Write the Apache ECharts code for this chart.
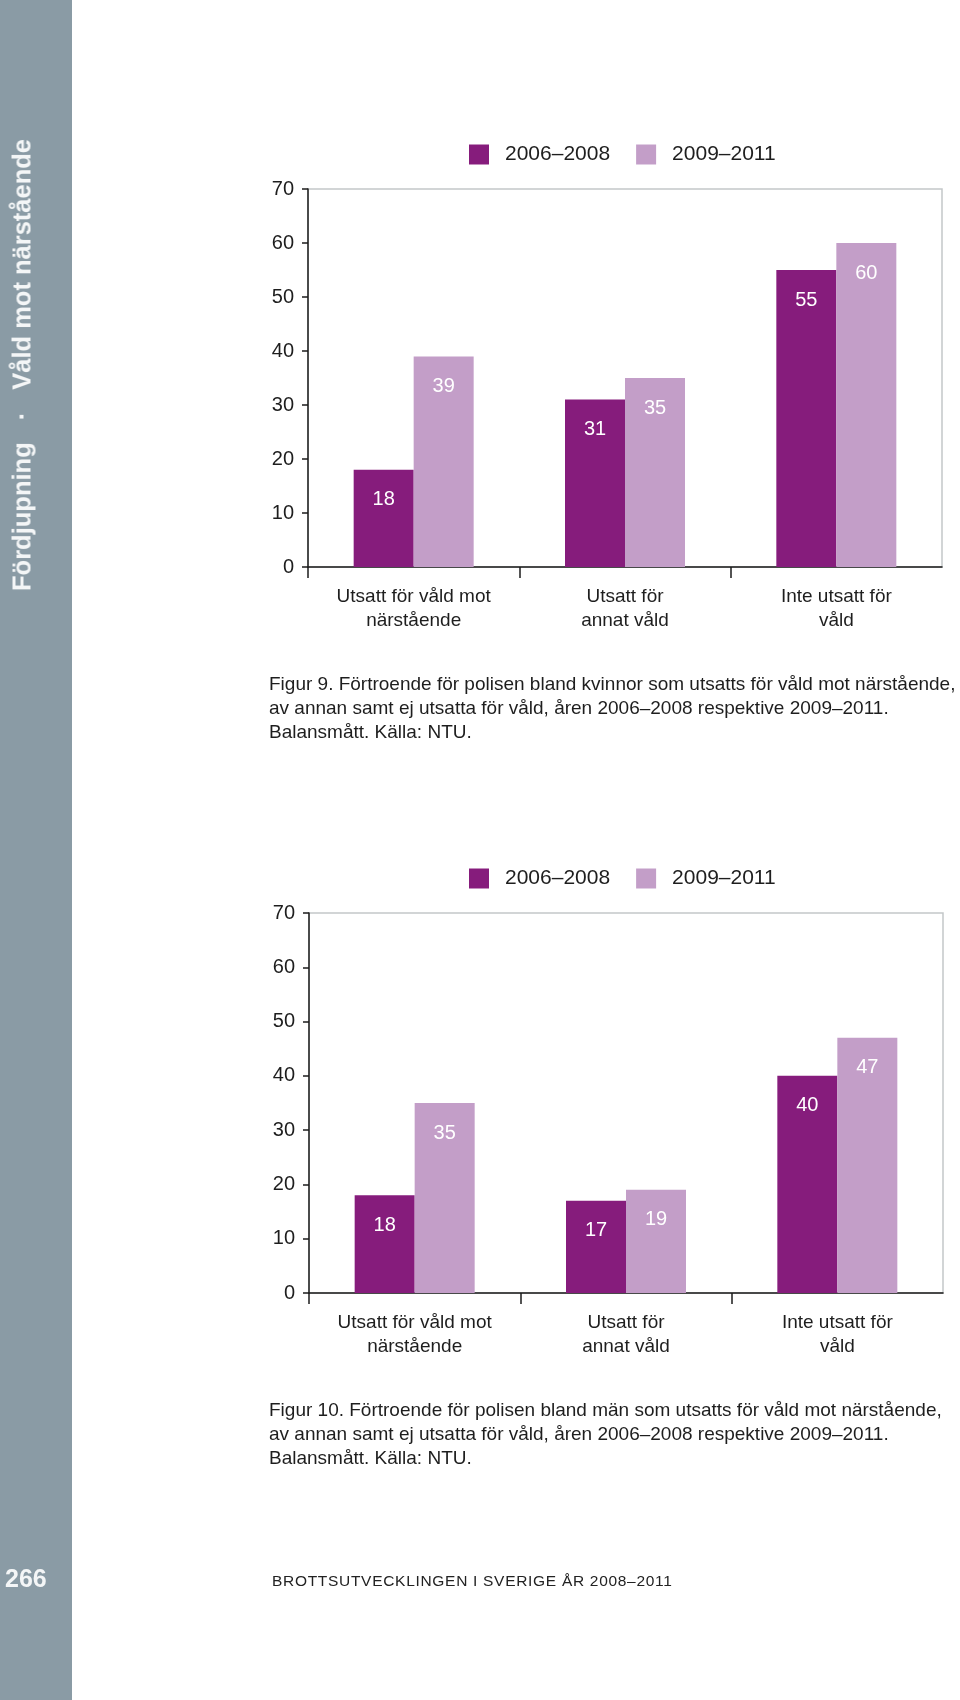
<!DOCTYPE html>
<html>
<head>
<meta charset="utf-8">
<script src="https://cdn.jsdelivr.net/npm/echarts@6/dist/echarts.min.js"></script>
<style>
  html, body { margin: 0; padding: 0; background: #ffffff; }
  body { width: 960px; height: 1700px; position: relative; overflow: hidden; font-family: "Liberation Sans", Arial, sans-serif; }
  #sidebar { position: absolute; left: 0; top: 0; width: 72px; height: 1700px; background: #8a9ba5; }
  #sidetext { position: absolute; left: 22px; top: 365px; transform: translate(-50%, -50%) rotate(-90deg);
    white-space: nowrap; color: #f4f6f7; font-weight: bold; font-size: 25.5px; }
  #sidetext .dot { display: inline-block; margin: 0 22px; }
  #pagenum { position: absolute; left: 5px; top: 1563px; color: #f4f6f7; font-weight: bold; font-size: 25px; line-height: 30px; }
  #footer { position: absolute; left: 272px; top: 1571px; color: #222; font-size: 15.5px; line-height: 20px; letter-spacing: 0.7px; white-space: nowrap; }
  .caption { position: absolute; left: 269px; color: #1e1e1e; font-size: 19px; line-height: 24px; white-space: nowrap; }
  #chart { position: absolute; left: 0; top: 0; width: 960px; height: 1700px; }
</style>
</head>
<body>
<div id="sidebar"></div>
<div id="chart"></div>
<div id="sidetext">Fördjupning<span class="dot">·</span>Våld mot närstående</div>
<div id="pagenum">266</div>
<div class="caption" id="cap1"></div>
<div class="caption" id="cap2"></div>
<div id="footer">BROTTSUTVECKLINGEN I SVERIGE ÅR 2008–2011</div>
<script>
// ---- Data ----
const categories = ['Utsatt för våld mot\nnärstående', 'Utsatt för\nannat våld', 'Inte utsatt för\nvåld'];
const seriesNames = ['2006–2008', '2009–2011'];
const womenA = [18, 31, 55];   // Figur 9, 2006–2008
const womenB = [39, 35, 60];   // Figur 9, 2009–2011
const menA = [18, 17, 40];     // Figur 10, 2006–2008
const menB = [35, 19, 47];     // Figur 10, 2009–2011
const yMin = 0, yMax = 70, yStep = 10;
const categoryBoundaryTicks = [0, 1, 2];   // tick marks between categories (none at the right end)
const caption1 = [
  'Figur 9. Förtroende för polisen bland kvinnor som utsatts för våld mot närstående,',
  'av annan samt ej utsatta för våld, åren 2006–2008 respektive 2009–2011.',
  'Balansmått. Källa: NTU.'
];
const caption2 = [
  'Figur 10. Förtroende för polisen bland män som utsatts för våld mot närstående,',
  'av annan samt ej utsatta för våld, åren 2006–2008 respektive 2009–2011.',
  'Balansmått. Källa: NTU.'
];

// ---- Captions ----
const c1 = document.getElementById('cap1');
c1.style.top = '672px';
c1.innerHTML = caption1.join('<br>');
const c2 = document.getElementById('cap2');
c2.style.top = '1398px';
c2.innerHTML = caption2.join('<br>');

// ---- Chart ----
const DARK = '#861c7c';
const LIGHT = '#c39ec8';
const AXIS = '#1c1c1c';
const FRAME = '#c3c7c9';
const FONT = '"Liberation Sans", Arial, sans-serif';

const grids = [
  { left: 308, top: 189, width: 634, height: 378 },
  { left: 309, top: 913, width: 634, height: 380 }
];

const chart = echarts.init(document.getElementById('chart'), null, { width: 960, height: 1700 });

function xAxisCfg(gridIndex) {
  return {
    type: 'category', gridIndex: gridIndex, data: categories, position: 'bottom',
    axisLine: { lineStyle: { color: AXIS, width: 1.5 } },
    axisTick: { show: false },
    axisLabel: { interval: 0, color: '#1e1e1e', fontSize: 19, lineHeight: 24, fontFamily: FONT, margin: 18 },
    splitLine: { show: false }
  };
}
// helper axis that only draws the boundary tick marks below the category axis
function tickAxisCfg(gridIndex) {
  return {
    type: 'value', gridIndex: gridIndex, min: 0, max: categories.length, interval: 1,
    position: 'top', offset: -grids[gridIndex].height,
    axisLine: { show: false },
    axisLabel: { show: false },
    splitLine: { show: false },
    axisTick: { show: true, inside: true, length: 11, customValues: categoryBoundaryTicks,
      lineStyle: { color: AXIS, width: 1.5 } },
    silent: true
  };
}
function yAxisCfg(gridIndex) {
  return {
    type: 'value', gridIndex: gridIndex, min: yMin, max: yMax, interval: yStep,
    axisLine: { show: true, lineStyle: { color: AXIS, width: 1.5 } },
    axisTick: { show: true, length: 6, lineStyle: { color: AXIS, width: 1.5 } },
    axisLabel: { color: '#1e1e1e', fontSize: 20, fontFamily: FONT, margin: 14 },
    splitLine: { show: false }
  };
}
function barSeries(name, data, color, idx) {
  return {
    name: name, type: 'bar', xAxisIndex: idx, yAxisIndex: idx, data: data,
    barWidth: 60, barGap: '0%',
    itemStyle: { color: color },
    label: { show: true, position: 'insideTop', distance: 20, color: '#ffffff', fontSize: 20, fontFamily: FONT },
    emphasis: { disabled: true }
  };
}
function legendCfg(top) {
  return {
    data: seriesNames, left: 469, top: top, padding: 0,
    itemWidth: 20, itemHeight: 20, itemGap: 26, icon: 'rect',
    textStyle: { color: '#1e1e1e', fontSize: 21, fontFamily: FONT, padding: [0, 0, 0, 11] }
  };
}

chart.setOption({
  animation: false,
  backgroundColor: 'transparent',
  color: [DARK, LIGHT],
  legend: [legendCfg(144), legendCfg(868)],
  grid: grids.map(g => Object.assign({ show: true, borderColor: FRAME, borderWidth: 1.5, backgroundColor: 'transparent' }, g)),
  xAxis: [xAxisCfg(0), xAxisCfg(1), tickAxisCfg(0), tickAxisCfg(1)],
  yAxis: [yAxisCfg(0), yAxisCfg(1)],
  series: [
    barSeries(seriesNames[0], womenA, DARK, 0),
    barSeries(seriesNames[1], womenB, LIGHT, 0),
    barSeries(seriesNames[0], menA, DARK, 1),
    barSeries(seriesNames[1], menB, LIGHT, 1)
  ]
});
</script>
</body>
</html>
